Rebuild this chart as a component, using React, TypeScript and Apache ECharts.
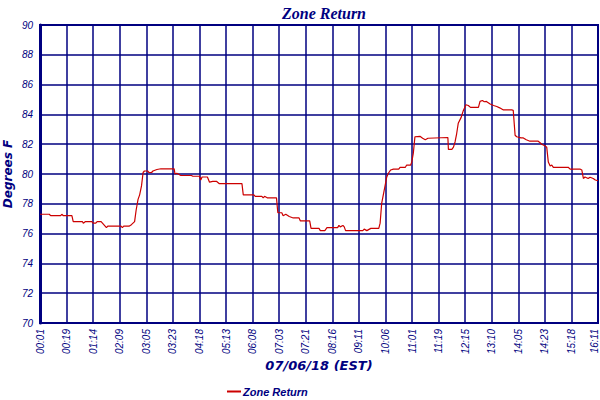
import { useRef, useEffect } from 'react'
import * as echarts from 'echarts'

// tick labels along the bottom, one per vertical grid line
const timeLabels = [
  '00:01', '00:19', '01:14', '02:09', '03:05', '03:23', '04:18', '05:13',
  '06:08', '07:03', '07:21', '08:16', '09:11', '10:06', '11:01', '11:19',
  '12:15', '13:10', '14:05', '14:23', '15:18', '16:11'
]

// sample positions, in tick-label units (0 = 00:01, 21 = 16:11)
const samplePos = [
  0, 0.35, 0.4, 0.78, 0.82, 0.88, 1.2, 1.25, 1.6, 1.63, 1.7, 1.95, 2.0, 2.1, 2.15, 2.3, 2.35, 2.5, 2.55,
  3.05, 3.1, 3.15, 3.35, 3.44, 3.56, 3.62, 3.69, 3.75, 3.82, 3.88, 3.93, 4.05, 4.1, 4.2, 4.25, 4.4, 4.55,
  5.05, 5.08, 5.15, 5.3, 5.7, 5.75, 6.0, 6.05, 6.1, 6.3, 6.38, 6.5, 6.65, 6.75, 7.6, 7.65, 8.05, 8.1,
  8.35, 8.4, 8.45, 8.55, 8.9, 8.95, 9.1, 9.15, 9.25, 9.38, 9.53, 9.75, 9.8, 10.15, 10.2, 10.5, 10.55,
  10.72, 10.8, 11.2, 11.25, 11.3, 11.4, 11.45, 11.5, 12.15, 12.2, 12.3, 12.45, 12.75, 12.8, 12.86, 12.98,
  13.05, 13.11, 13.2, 13.3, 13.5, 13.55, 13.75, 13.8, 13.95, 13.99, 14.05, 14.11, 14.3, 14.4, 14.5, 14.6,
  15.35, 15.37, 15.5, 15.56, 15.62, 15.68, 15.74, 15.85, 15.93, 16.03, 16.12, 16.2, 16.5, 16.56, 16.65,
  16.72, 16.8, 16.94, 17.07, 17.19, 17.3, 17.44, 17.75, 17.81, 17.88, 17.94, 18.1, 18.19, 18.3, 18.44,
  18.75, 18.82, 18.88, 19.0, 19.07, 19.13, 19.2, 19.26, 19.32, 19.88, 19.95, 20.32, 20.39, 20.45, 20.51,
  20.63, 20.7, 20.82, 20.9, 21
]

// Zone Return, degrees F
const zoneReturn = [
  77.3, 77.3, 77.2, 77.2, 77.3, 77.2, 77.2, 76.8, 76.8, 76.7, 76.8, 76.8, 76.7, 76.7, 76.8, 76.8, 76.7, 76.4, 76.5,
  76.5, 76.4, 76.5, 76.5, 76.6, 76.8, 77.6, 78.3, 78.6, 79.2, 80.1, 80.2, 80.2, 80.1, 80.1, 80.2, 80.3, 80.35,
  80.35, 80.0, 80.05, 79.9, 79.9, 79.85, 79.85, 79.6, 79.8, 79.8, 79.45, 79.5, 79.5, 79.35, 79.35, 78.6, 78.6, 78.5,
  78.5, 78.4, 78.5, 78.4, 78.4, 77.4, 77.4, 77.2, 77.3, 77.15, 77.05, 77.05, 76.85, 76.85, 76.35, 76.35, 76.2,
  76.2, 76.4, 76.4, 76.55, 76.45, 76.55, 76.45, 76.2, 76.2, 76.3, 76.2, 76.35, 76.35, 76.7, 78.05, 79.15,
  79.8, 80.05, 80.27, 80.33, 80.33, 80.45, 80.45, 80.6, 80.6, 80.8, 81.4, 82.5, 82.53, 82.4, 82.3, 82.4,
  82.45, 81.65, 81.65, 81.8, 82.15, 82.7, 83.4, 83.8, 84.25, 84.65, 84.6, 84.47, 84.47, 84.87, 84.93,
  84.85, 84.87, 84.7, 84.6, 84.53, 84.44, 84.3, 84.3, 84.27, 82.6, 82.5, 82.42, 82.42, 82.3, 82.2,
  82.2, 82.1, 82.0, 81.9, 81.8, 80.8, 80.53, 80.6, 80.45, 80.45, 80.33, 80.33, 80.27, 79.7, 79.8,
  79.7, 79.78, 79.7, 79.6, 79.55
]

const NAVY = '#000080'
const RED = '#cc0000'

export default function App() {
  const containerRef = useRef<HTMLDivElement>(null)

  useEffect(() => {
    const el = containerRef.current
    if (!el) return
    const chart = echarts.init(el, null, { renderer: 'svg' })

    const tickFont = {
      color: NAVY,
      fontSize: 10,
      fontStyle: 'italic' as const,
      fontFamily: 'Liberation Sans'
    }
    const nameFont = {
      color: NAVY,
      fontSize: 12,
      fontStyle: 'italic' as const,
      fontWeight: 'bold' as const,
      fontFamily: 'DejaVu Sans'
    }
    const lastIdx = timeLabels.length - 1

    chart.setOption({
      animation: false,
      backgroundColor: '#ffffff',
      title: {
        text: 'Zone Return',
        left: 319,
        textAlign: 'center',
        top: 0,
        textStyle: {
          color: NAVY,
          fontSize: 16,
          fontStyle: 'italic',
          fontWeight: 'bold',
          fontFamily: 'Liberation Serif'
        }
      },
      legend: {
        left: 222,
        top: 381,
        itemWidth: 14,
        itemHeight: 2,
        itemGap: 4,
        icon: 'rect',
        data: ['Zone Return'],
        textStyle: { ...tickFont, fontSize: 11, fontWeight: 'bold', padding: [0, 0, 0, -3] }
      },
      grid: {
        left: 40, right: 2, top: 25, bottom: 77,
        outerBoundsMode: 'none',
        containLabel: false,
        show: true,
        borderColor: NAVY,
        borderWidth: 2
      },
      xAxis: {
        type: 'value',
        min: 0,
        max: 21,
        interval: 1,
        name: '07/06/18 (EST)',
        nameLocation: 'middle',
        nameGap: 36,
        nameMoveOverlap: false,
        nameTextStyle: { ...nameFont, fontSize: 13 },
        axisLine: { lineStyle: { color: NAVY, width: 2 } },
        axisTick: { show: false },
        splitLine: { lineStyle: { color: NAVY, width: 1.5 } },
        axisLabel: {
          ...tickFont,
          rotate: 90,
          margin: 6,
          // the last label sits on the right edge; nudge it inward a little
          formatter: (v: number) => {
            const i = Math.round(v)
            const t = timeLabels[i] ?? ''
            return i === lastIdx ? `{edge|${t}}` : t
          },
          rich: {
            edge: { ...tickFont, padding: [0, 0, 7, 0] }
          }
        }
      },
      yAxis: {
        type: 'value',
        min: 70,
        max: 90,
        interval: 2,
        name: 'Degrees F',
        nameLocation: 'middle',
        nameRotate: 90,
        nameGap: 26,
        nameMoveOverlap: false,
        nameTextStyle: nameFont,
        axisLine: { show: true, lineStyle: { color: NAVY, width: 3 } },
        axisTick: { show: false },
        splitLine: { lineStyle: { color: NAVY, width: 1.5 } },
        axisLabel: { ...tickFont, margin: 7 }
      },
      series: [{
        name: 'Zone Return',
        type: 'line',
        data: samplePos.map((x, i) => [x, zoneReturn[i]]),
        symbol: 'none',
        color: RED,
        lineStyle: { color: RED, width: 1.2 }
      }]
    })

    return () => chart.dispose()
  }, [])

  return (
    <div
      ref={containerRef}
      style={{ position: 'fixed', left: 0, top: 0, width: 600, height: 400 }}
    />
  )
}
